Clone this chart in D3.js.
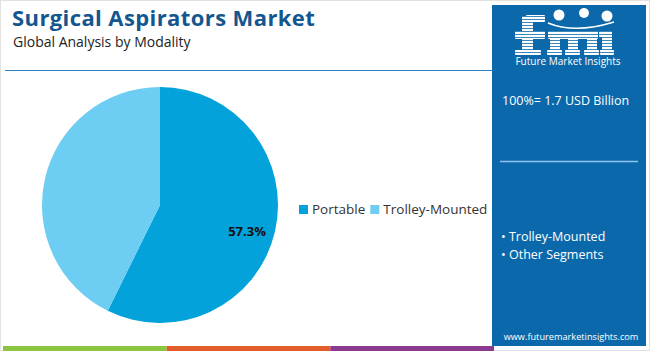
<!DOCTYPE html>
<html>
<head>
<meta charset="utf-8">
<script src="https://cdn.jsdelivr.net/npm/d3@7"></script>
<style>
  body { margin: 0; background: #fff; }
  svg { display: block; font-family: "Open Sans", Roboto, sans-serif; }
</style>
</head>
<body>
<div id="chart"></div>
<script>
// Data
const categories = ["Portable", "Trolley-Mounted"];
const shares = [57.3, 42.7];
const colors = ["#03a2db", "#6dcdf2"];
const totalLabel = "100%= 1.7 USD Billion";
const segments = ["Trolley-Mounted", "Other Segments"];
const stripeColors = ["#8cc540", "#e35d2b", "#8b3a8f"];

const width = 650, height = 351;

const svg = d3.select("#chart").append("svg")
    .attr("width", width)
    .attr("height", height);

// page frame
svg.append("rect")
    .attr("x", 0.5).attr("y", 0.5)
    .attr("width", width - 1).attr("height", height - 1)
    .attr("fill", "#fff").attr("stroke", "#e2e2e2");

// Title block
svg.append("text")
    .attr("x", 12).attr("y", 26)
    .attr("font-size", 22).attr("font-weight", 700)
    .attr("letter-spacing", 0.4)
    .attr("fill", "#14578f")
    .text("Surgical Aspirators Market");

svg.append("text")
    .attr("x", 13).attr("y", 47)
    .attr("font-size", 14)
    .attr("fill", "#222")
    .text("Global Analysis by Modality");

svg.append("line")
    .attr("x1", 5).attr("x2", 492)
    .attr("y1", 70.5).attr("y2", 70.5)
    .attr("stroke", "#2f7fbf").attr("stroke-width", 1.2);

// Pie
const cx = 160, cy = 205, r = 118;
const pie = d3.pie().sort(null).value(d => d.value);
const arc = d3.arc().innerRadius(0).outerRadius(r);
const data = categories.map((c, i) => ({ name: c, value: shares[i] }));

const g = svg.append("g").attr("transform", `translate(${cx},${cy})`);
const arcs = pie(data);
g.selectAll("path")
    .data(arcs)
    .enter().append("path")
    .attr("d", arc)
    .attr("fill", (d, i) => colors[i]);

// label only the largest slice
g.append("text")
    .attr("x", 87).attr("y", 28)
    .attr("text-anchor", "middle")
    .attr("dominant-baseline", "middle")
    .attr("font-size", 13).attr("font-weight", 700)
    .attr("fill", "#111")
    .text(d3.format(".1f")(shares[0]) + "%");

// Legend
const legend = svg.append("g").attr("transform", "translate(299,210)");
let lx = 0;
categories.forEach((c, i) => {
    const item = legend.append("g").attr("transform", `translate(${lx},0)`);
    item.append("rect")
        .attr("x", 0).attr("y", -5)
        .attr("width", 9).attr("height", 9)
        .attr("fill", colors[i]);
    const t = item.append("text")
        .attr("x", 13).attr("y", 0)
        .attr("dominant-baseline", "middle")
        .attr("font-size", 13.5)
        .attr("fill", "#333")
        .text(c);
    lx += 13 + t.node().getComputedTextLength() + 5;
});

// Right panel
const px = 492, py = 5, pw = 154, ph = 341;
svg.append("rect")
    .attr("x", px).attr("y", py)
    .attr("width", pw).attr("height", ph)
    .attr("fill", "#0b69ab");

// logo: striped "fmi" letters built from shapes
const defs = svg.append("defs");
const clip = defs.append("clipPath").attr("id", "fmi-clip");
const shapes = [
    // f
    [522, 16, 11, 39], [526, 15, 19, 7], [515, 31, 30, 8], [515, 50, 26, 5],
    // m
    [548, 31, 50, 8], [550, 31, 10, 24], [568, 31, 10, 24], [587, 31, 10, 24],
    [547, 50, 15, 5], [565, 50, 15, 5], [584, 50, 15, 5],
    // i
    [602, 31, 10, 24], [600, 50, 14, 5], [599, 31, 8, 6]
];
shapes.forEach(s => {
    clip.append("rect").attr("x", s[0]).attr("y", s[1]).attr("width", s[2]).attr("height", s[3]).attr("rx", 1);
});
const logo = svg.append("g");
logo.append("g").attr("clip-path", "url(#fmi-clip)")
    .selectAll("rect")
    .data(d3.range(14, 56, 3))
    .enter().append("rect")
    .attr("x", 512).attr("y", d => d)
    .attr("width", 106).attr("height", 2.2)
    .attr("fill", "#fff");
// small icons above the letters
[[559, 15, 5.5], [584, 13, 5], [607, 16, 5.5]].forEach(([x, y, rr]) => {
    logo.append("circle").attr("cx", x).attr("cy", y).attr("r", rr).attr("fill", "#fff");
});
logo.append("path")
    .attr("d", "M548,23 Q575,34 614,22")
    .attr("fill", "none").attr("stroke", "#fff").attr("stroke-width", 1.5);
logo.append("text")
    .attr("x", 568).attr("y", 65)
    .attr("text-anchor", "middle")
    .attr("font-size", 10)
    .attr("fill", "#fff")
    .text("Future Market Insights");

svg.append("text")
    .attr("x", px + 10).attr("y", py + 100)
    .attr("font-size", 12.5)
    .attr("fill", "#fff")
    .text(totalLabel);

svg.append("line")
    .attr("x1", px + 8).attr("x2", px + 146)
    .attr("y1", 161.5).attr("y2", 161.5)
    .attr("stroke", "#8ec3ea").attr("stroke-width", 1.5);

segments.forEach((s, i) => {
    svg.append("text")
        .attr("x", px + 9).attr("y", 241 + i * 18)
        .attr("font-size", 12.5)
        .attr("fill", "#fff")
        .text("\u2022 " + s);
});

svg.append("text")
    .attr("x", px + 79).attr("y", 340)
    .attr("text-anchor", "middle")
    .attr("font-size", 9.2)
    .attr("fill", "#fff")
    .text("www.futuremarketinsights.com");

// bottom stripes
const stripeX = d3.scaleBand().domain(d3.range(stripeColors.length)).range([3, 494]);
svg.selectAll(".stripe")
    .data(stripeColors)
    .enter().append("rect")
    .attr("class", "stripe")
    .attr("x", (d, i) => stripeX(i))
    .attr("y", 346)
    .attr("width", stripeX.bandwidth())
    .attr("height", 5)
    .attr("fill", d => d);
</script>
</body>
</html>
